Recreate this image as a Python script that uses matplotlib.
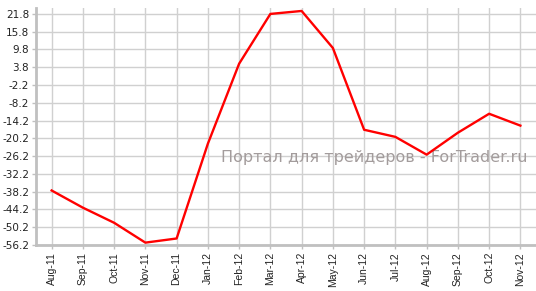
import numpy as np
import matplotlib.pyplot as plt

months = ['Aug-11', 'Sep-11', 'Oct-11', 'Nov-11', 'Dec-11', 'Jan-12', 'Feb-12', 'Mar-12',
          'Apr-12', 'May-12', 'Jun-12', 'Jul-12', 'Aug-12', 'Sep-12', 'Oct-12', 'Nov-12']
values = [-37.8, -43.6, -48.7, -55.4, -54.0, -22.0, 5.0, 21.8,
          22.8, 10.3, -17.3, -19.7, -25.7, -18.3, -11.9, -15.9]
yticks = [21.8, 15.8, 9.8, 3.8, -2.2, -8.2, -14.2, -20.2, -26.2, -32.2, -38.2, -44.2, -50.2, -56.2]

fig = plt.figure(figsize=(5.36, 2.91), dpi=100)
ax = fig.add_axes([36/536, 1-245/291, 500/536, 237/291])
x = np.arange(len(months))
ax.plot(x, values, color='#ff0000', lw=1.7, zorder=3)

ax.set_xlim(-0.5, 15.5)
ax.set_ylim(-56.2, 23.8)
ax.set_xticks(x)
ax.set_xticklabels(months, rotation=90, fontsize=7.5, family='Liberation Sans')
ax.set_yticks(yticks)
ax.set_yticklabels(['%.1f' % v for v in yticks], fontsize=7.5, family='DejaVu Sans', color='#222222')
ax.grid(True, color='#d0d0d0', lw=1)
ax.set_axisbelow(True)
for s in ['top', 'right']:
    ax.spines[s].set_visible(False)
for s in ['left', 'bottom']:
    ax.spines[s].set_color('#c0c0c0')
    ax.spines[s].set_linewidth(2)
ax.tick_params(colors='#c0c0c0', length=3, width=1, labelcolor='#222222', pad=2)

ax.text(0.676, 0.371, 'Портал для трейдеров - ForTrader.ru', transform=ax.transAxes,
        fontsize=11.5, color='#a39c9c', ha='center', va='center', zorder=2)

fig.savefig('out.png', dpi=100)
